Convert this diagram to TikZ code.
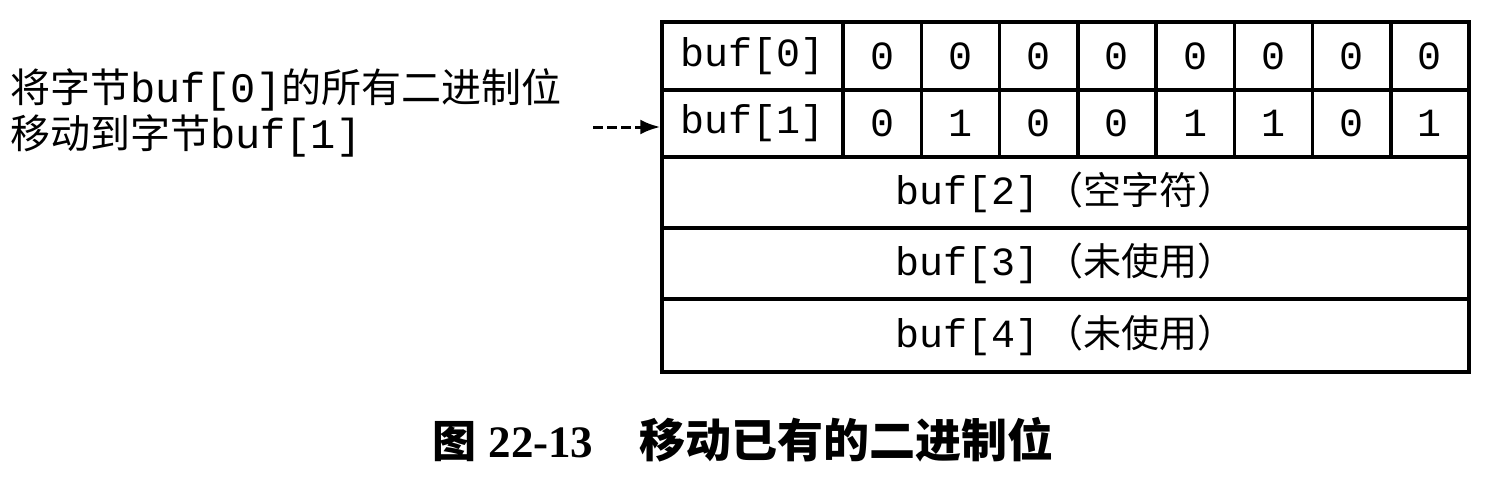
\documentclass[tikz,border=0pt]{standalone}
\usepackage{fontspec}
\setmonofont{Liberation Mono}
\newfontfamily\cjk{Noto Sans CJK SC}
\newfontfamily\capserif{Liberation Serif}
\usetikzlibrary{arrows.meta}
\tikzset{
  cell/.style={draw, line width=3.5pt, inner sep=0pt, anchor=center},
  labcell/.style={cell, minimum width=181pt, minimum height=68pt, font=\fontsize{40}{40}\selectfont\ttfamily},
  bitcell/.style={cell, minimum width=78.25pt, minimum height=68pt, font=\fontsize{40}{40}\selectfont\ttfamily},
  widecell/.style={cell, minimum width=807pt, font=\fontsize{40}{40}\selectfont\ttfamily},
  lefttext/.style={anchor=west, inner sep=0pt, font=\fontsize{40}{40}\selectfont},
  ptr/.style={line width=3pt, dash pattern=on 10pt off 4pt, -{Latex[length=20pt,width=15pt]}}
}
\begin{document}
\begin{tikzpicture}[x=1pt,y=-1pt]
\useasboundingbox (0,0) rectangle (1492,480);
% row 0 and row 1
\node[labcell] (b0) at (752.5,56) {buf[0]};
\node[labcell, minimum height=67pt] (b1) at (752.5,123.5) {buf[1]};
\foreach \i/\v in {1/0,2/0,3/0,4/0,5/0,6/0,7/0,8/0}{
  \node[bitcell] (b0c\i) at ({843+78.25*(\i-0.5)},56) {\v};
}
\foreach \i/\v in {1/0,2/1,3/0,4/0,5/1,6/1,7/0,8/1}{
  \node[bitcell, minimum height=67pt] (b1c\i) at ({843+78.25*(\i-0.5)},123.5) {\v};
}
\node[widecell, minimum height=71pt] (b2) at (1065.5,192.5) {buf[2]\,{\cjk\fontsize{38}{38}\selectfont （空字符）}};
\node[widecell, minimum height=71pt] (b3) at (1065.5,263.5) {buf[3]\,{\cjk\fontsize{38}{38}\selectfont （未使用）}};
\node[widecell, minimum height=73pt] (b4) at (1065.5,335.5) {buf[4]\,{\cjk\fontsize{38}{38}\selectfont （未使用）}};
% left annotation
\node[lefttext] (l1) at (10,90) {{\cjk 将字节}{\fontsize{42}{42}\selectfont\ttfamily buf[0]}{\cjk 的所有二进制位}};
\node[lefttext] (l2) at (10,136) {{\cjk 移动到字节}{\fontsize{42}{42}\selectfont\ttfamily buf[1]}};
\coordinate (as) at (593,127);
\draw[ptr] (as) -- (b1.west |- as);
% caption
\node[inner sep=0pt] (cap) at (743,440) {{\cjk\bfseries\fontsize{44}{44}\selectfont 图}\hspace{12pt}{\capserif\bfseries\fontsize{45}{45}\selectfont 22-13}\hspace{46pt}{\cjk\bfseries\fontsize{46}{46}\selectfont 移动已有的二进制位}};
\end{tikzpicture}
\end{document}
